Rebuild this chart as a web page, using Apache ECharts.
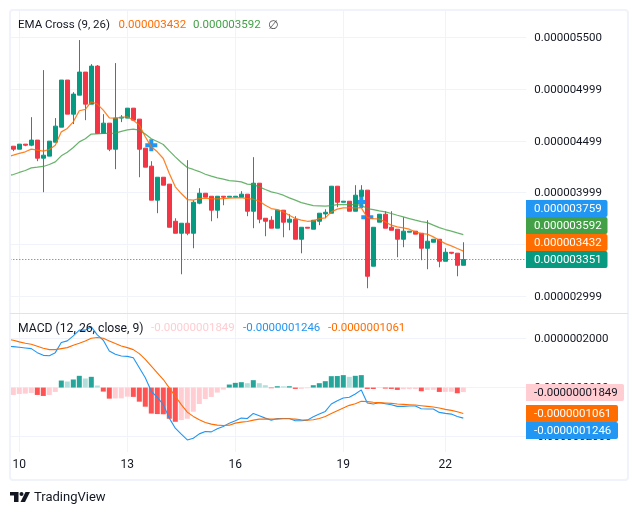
<!DOCTYPE html>
<html><head><meta charset="utf-8">
<style>html,body{margin:0;padding:0;background:#fff}#c{width:638px;height:515px}</style>
<script src="https://cdn.jsdelivr.net/npm/echarts@6/dist/echarts.min.js"></script>
</head><body><div id="c"></div>
<script>
// Price values in units of 1e-9, MACD values in units of 1e-10
// Slot 0 is the partly visible bar at the pane's left edge: only its line values show.
const dayLabels = {2:'10',20:'13',38:'16',56:'19',73:'22'};
const candles = ['-', // open, close, low, high
[4447,4418,4399,4447],[4418,4467,4418,4467],[4467,4457,4447,4467],[4457,4506,4447,4728],[4506,4331,4302,4506],
[4331,4360,4002,5183],[4351,4496,4351,4496],[4486,4641,4486,4719],[4631,5087,4631,5087],[5087,4757,4757,5087],
[4757,4951,4661,4970],[4941,5164,4941,5474],[5164,4854,4699,5164],[4854,5222,4854,5241],[5222,4570,4570,5232],
[4570,4670,4570,4757],[4670,4418,4399,4670],[4418,4719,4225,5251],[4719,4728,4680,4748],[4719,4815,4719,4815],
[4815,4699,4699,4815],[4709,4418,4147,4709],[4428,4244,4244,4428],[4254,3925,3925,4302],[3925,4147,3799,4147],
[4147,4070,4070,4147],[4080,3663,3663,4080],[3721,3605,3605,3750],[3605,3702,3208,3702],[3702,3605,3586,4312],
[3605,3905,3460,3925],[3896,3992,3886,4041],[3992,3954,3954,3992],[3963,3828,3721,3963],[3828,3963,3750,3963],
[3963,3954,3876,3963],[3954,3963,3954,3963],[3954,3963,3954,3963],[3954,3983,3954,4012],[3983,3818,3770,3983],
[3818,4089,3654,4341],[4089,3741,3702,4089],[3750,3721,3576,3750],[3731,3654,3654,3770],[3654,3828,3654,3828],
[3828,3712,3566,3828],[3712,3741,3634,3789],[3741,3547,3547,3770],[3547,3663,3411,3663],[3663,3654,3654,3663],
[3644,3731,3644,3731],[3721,3799,3683,3799],[3792,3808,3750,3837],[3799,4060,3799,4060],[4060,3905,3857,4060],
[3905,3915,3905,3915],[3915,3818,3818,3915],[3818,3973,3818,4070],[3963,4022,3963,4070],[4022,3189,3073,4022],
[3286,3663,3286,3663],[3712,3789,3712,3789],[3789,3654,3654,3818],[3663,3634,3634,3818],[3644,3547,3373,3644],
[3547,3625,3470,3760],[3615,3625,3615,3625],[3625,3596,3596,3625],[3605,3460,3344,3605],[3460,3528,3257,3731],
[3518,3547,3518,3547],[3547,3334,3276,3547],[3334,3421,3334,3460],[3421,3412,3402,3421],[3412,3295,3189,3412],
[3295,3351,3295,3518]];
const emaFast = [4344,4360,4377,4393,4419,4409,4399,4415,4457,4586,4619,4683,4790,4803,4877,4854,4796,4722,4719,4725,4732,
4699,4651,4538,4441,4393,4328,4183,4054,3989,3931,3925,3941,3944,3938,3938,3941,3944,3947,3950,3941,
3934,3915,3876,3844,3834,3812,3779,3747,3731,3721,3725,3747,3754,3812,3838,3851,3851,3851,3851,3757,
3747,3741,3715,3683,3667,3657,3644,3618,3602,3596,3570,3537,3505,3483,3457,3432];
const emaSlow = [4163,4173,4193,4212,4238,4244,4251,4270,4296,4354,4389,4435,4489,4519,4564,4567,4570,4570,4573,4590,4606,
4612,4602,4564,4519,4493,4464,4402,4344,4289,4241,4222,4202,4176,4157,4141,4128,4115,4109,4102,4080,
4076,4054,4028,4005,3992,3973,3947,3925,3902,3886,3873,3870,3867,3873,3883,3883,3883,3883,3876,3844,
3834,3821,3812,3796,3779,3763,3747,3731,3718,3708,3683,3660,3641,3625,3608,3592];
const crossPoints = [[24,4457],[59,3908],[60,3759]];
const priceTicks = [5500,4999,4499,3999,3499,2999];
const histogram = ['-',-301,-260,-246,-219,-301,-342,-301,-178,287,246,329,479,370,438,82,-164,-452,-445,-440,-370,
-380,-575,-780,-1060,-1081,-1090,-1273,-1396,-1328,-1273,-986,-671,-465,-383,-205,-82,123,192,219,178,
301,178,96,-27,55,50,55,-55,-50,-27,96,178,260,465,470,507,438,479,507,-55,
-58,-14,-41,-55,-96,-68,-65,-62,-151,-96,-90,-178,-175,-172,-233,-184.9];
const macdLine = [1684,1670,1643,1615,1588,1424,1314,1300,1424,1834,1903,2108,2341,2341,2478,2149,1930,1492,1355,1287,1273,
1218,808,397,-151,-397,-698,-1246,-1657,-1903,-2136,-2067,-1889,-1794,-1807,-1684,-1588,-1451,-1355,-1246,-1260,
-1054,-1150,-1246,-1328,-1260,-1260,-1260,-1355,-1355,-1328,-1191,-1082,-972,-671,-534,-424,-397,-260,-96,-630,
-671,-616,-657,-698,-767,-767,-753,-753,-863,-876,-876,-1013,-1054,-1082,-1177,-1246];
const signalLine = [1971,1930,1862,1807,1766,1684,1602,1547,1547,1588,1629,1725,1807,1903,2012,2040,2012,1903,1793,1697,1629,
1547,1383,1150,876,602,328,-14,-356,-698,-1000,-1177,-1314,-1424,-1492,-1533,-1547,-1533,-1451,-1410,-1383,
-1328,-1287,-1287,-1287,-1287,-1273,-1273,-1287,-1314,-1328,-1314,-1260,-1177,-1054,-945,-835,-726,-657,-561,-575,
-602,-616,-630,-643,-671,-685,-698,-712,-739,-767,-794,-835,-890,-931,-986,-1061];
const macdTicks = [2000,0,-2000];

const SLOTS = 87;
const categories = Array.from({length:SLOTS},(_,i)=>dayLabels[i]||'');
const isDay = i => dayLabels[i]!==undefined;
const price = v => (v/1e9).toFixed(9);
const macdFmt = v => (v/1e10).toFixed(10);
const histFmt = v => (v/1e10).toFixed(11);
const last = a => a[a.length-1];
const lastClose = last(candles)[1];

const C = {up:'#089981',down:'#F23645',fast:'#FF6D00',slow:'#43A047',blue:'#2196F3',text:'#131722',
  grid:'#F0F3FA',sep:'#E0E3EB',hDark:'#26A69A',hLight:'#B2DFDB',nDark:'#FF5252',nLight:'#FFCDD2'};
const histColor = (h,i) => {
  const p = typeof histogram[i-1]==='number' ? histogram[i-1] : h;
  return h>=0 ? (h>p ? C.hDark : C.hLight) : (h<p ? C.nDark : C.nLight);
};
const FONT = 'Roboto';
const FS = 11.5;

function txt(x,y,t,fill,extra){
  return {type:'text',x,y,z:50,silent:true,
    style:Object.assign({text:t,fill,font:FS+'px '+FONT,textVerticalAlign:'middle'},extra||{})};
}
function tag(y,h,w,bg,t,fg){
  return [
    {type:'rect',z:40,silent:true,shape:{x:526,y,width:w,height:h,r:[0,2,2,0]},style:{fill:bg}},
    {type:'text',z:41,silent:true,x:534,y:y+h/2+0.5,style:{text:t,fill:fg,font:FS+'px '+FONT,textVerticalAlign:'middle'}}
  ];
}
const graphics = [
  {type:'rect',z:29,silent:true,shape:{x:0,y:0,width:10,height:480},style:{fill:'#fff'}},
  {type:'rect',z:30,silent:true,shape:{x:10,y:10,width:618,height:470,r:3},style:{fill:'none',stroke:C.grid,lineWidth:2}},
  {type:'line',z:30,silent:true,shape:{x1:10,y1:313.5,x2:628,y2:313.5},style:{stroke:C.sep,lineWidth:1}},
  txt(18,25.5,'EMA Cross (9, 26)',C.text),
  txt(118.5,25.5,price(last(emaFast)),C.fast),
  txt(193,25.5,price(last(emaSlow)),C.slow),
  txt(268,25.5,'∅','#555',{font:'12px "DejaVu Sans"'}),
  txt(18,328.5,'MACD (12, 26, close, 9)',C.text,{font:'12.2px '+FONT}),
  txt(151,328.5,histFmt(last(histogram)),C.nLight),
  txt(243,328.5,macdFmt(last(macdLine)),C.blue),
  txt(328,328.5,macdFmt(last(signalLine)),C.fast),
  ...tag(200,17,81.5,C.blue,price(last(crossPoints)[1]),'#fff'),
  ...tag(217,17,81.5,C.slow,price(last(emaSlow)),'#fff'),
  ...tag(234,17,81.5,C.fast,price(last(emaFast)),'#fff'),
  ...tag(251,17,81.5,C.up,price(lastClose),'#fff'),
  ...tag(384,17,98,C.nLight,histFmt(last(histogram)),C.text),
  ...tag(405,17,92,C.fast,macdFmt(last(signalLine)),'#fff'),
  ...tag(422,17,92,C.blue,macdFmt(last(macdLine)),'#fff'),
  {type:'polygon',z:50,silent:true,shape:{points:[[10,492],[18.5,492],[18.5,502],[14,502],[14,495.5],[10,495.5]]},style:{fill:C.text}},
  {type:'circle',z:50,silent:true,shape:{cx:21.5,cy:494,r:2},style:{fill:C.text}},
  {type:'polygon',z:50,silent:true,shape:{points:[[25.5,492],[30,492],[25,502],[20.5,502]]},style:{fill:C.text}},
  {type:'text',z:50,silent:true,x:34,y:498,style:{text:'TradingView',fill:C.text,font:'13px '+FONT,textVerticalAlign:'middle'}}
];

const xAxisBase = (gi,showLabel)=>({
  type:'category',gridIndex:gi,data:categories,boundaryGap:true,
  axisLine:{show:false},axisTick:{show:false,alignWithLabel:true,interval:isDay},
  axisLabel:{show:showLabel,interval:isDay,color:C.text,fontSize:12,fontFamily:FONT,margin:7},
  splitLine:{show:true,alignWithLabel:true,interval:isDay,lineStyle:{color:C.grid,width:1}}
});
const yAxisBase = (gi,min,max,ticks,fmt)=>({
  type:'value',gridIndex:gi,position:'right',min,max,scale:true,
  axisLine:{show:false},axisTick:{show:false,customValues:ticks},
  axisLabel:{customValues:ticks,color:C.text,fontSize:FS,fontFamily:FONT,margin:8,
    formatter:v=>'{t|'+fmt(v)+'}',
    rich:{t:{color:C.text,fontSize:FS,fontFamily:FONT,padding:[2,0,0,0]}}},
  splitLine:{show:true,lineStyle:{color:C.grid,width:1}}
});

const chart = echarts.init(document.getElementById('c'),null,{renderer:'canvas'});
chart.setOption({
  animation:false,backgroundColor:'#fff',
  grid:[
    {left:4.3,top:11,width:522,height:302},
    {left:4.3,top:314,width:522,height:138}
  ],
  xAxis:[xAxisBase(0,false),xAxisBase(1,true)],
  yAxis:[yAxisBase(0,2833.5,5755,priceTicks,price),yAxisBase(1,-2628,3000,macdTicks,macdFmt)],
  series:[
    {type:'scatter',xAxisIndex:0,yAxisIndex:0,z:1,data:crossPoints,symbol:'path://M4 0H8V4H12V8H8V12H4V8H0V4H4Z',symbolSize:12,itemStyle:{color:C.blue,opacity:1},silent:true},
    {type:'candlestick',xAxisIndex:0,yAxisIndex:0,z:2,barWidth:5,data:candles,silent:true,
      itemStyle:{color:C.up,color0:C.down,borderColor:C.up,borderColor0:C.down,borderWidth:1},
      markLine:{silent:true,symbol:'none',label:{show:false},animation:false,
        lineStyle:{color:C.up,type:[1,2],width:1},data:[{yAxis:lastClose}]}},
    {type:'line',xAxisIndex:0,yAxisIndex:0,z:3,data:emaSlow,symbol:'none',silent:true,lineStyle:{color:C.slow,width:1.25,opacity:0.8}},
    {type:'line',xAxisIndex:0,yAxisIndex:0,z:3,data:emaFast,symbol:'none',silent:true,lineStyle:{color:C.fast,width:1.25,opacity:0.85}},
    {type:'bar',xAxisIndex:1,yAxisIndex:1,z:2,barWidth:5,silent:true,
      data:histogram.map((h,i)=>h==='-'?'-':({value:h,itemStyle:{color:histColor(h,i)}}))},
    {type:'line',xAxisIndex:1,yAxisIndex:1,z:3,data:macdLine,symbol:'none',silent:true,lineStyle:{color:C.blue,width:1.1}},
    {type:'line',xAxisIndex:1,yAxisIndex:1,z:3,data:signalLine,symbol:'none',silent:true,lineStyle:{color:C.fast,width:1.1}}
  ],
  graphic:graphics
});
</script></body></html>
